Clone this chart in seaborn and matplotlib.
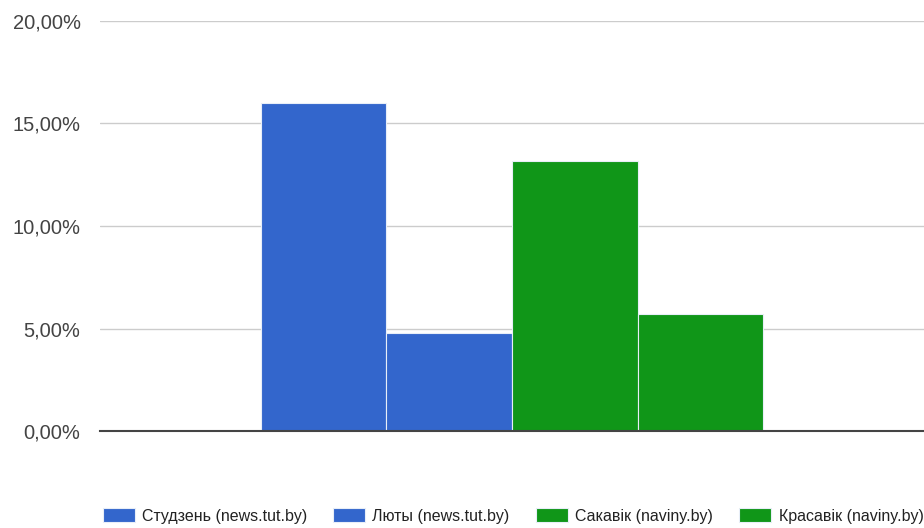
import matplotlib
matplotlib.use("Agg")
import matplotlib.pyplot as plt
import seaborn as sns
import pandas as pd
from matplotlib.ticker import FuncFormatter

# дадзеныя
serii = ["Студзень (news.tut.by)", "Люты (news.tut.by)",
         "Сакавік (naviny.by)", "Красавік (naviny.by)"]
znachenni = [16.0, 4.78, 13.18, 5.72]
kalory = ["#3366cc", "#3366cc", "#109618", "#109618"]
y_ticks = [0, 5, 10, 15, 20]

df = pd.DataFrame({"kat": [""] * len(serii), "serya": serii, "val": znachenni})

sns.set_theme(style="white")
plt.rcParams['font.family'] = ['Liberation Sans', 'DejaVu Sans']

fig = plt.figure(figsize=(9.24, 5.28), dpi=100)
ax = fig.add_axes([100 / 924, (528 - 431.4) / 528, 824 / 924, (431.4 - 20.7) / 528])

sns.barplot(data=df, x="kat", y="val", hue="serya", hue_order=serii,
            palette=kalory, width=0.61, gap=0, ax=ax,
            edgecolor="#e8eef8", linewidth=0.8, saturation=1)

ax.set_xlim(-0.5, 0.5)
ax.set_ylim(0, 20)
ax.set_yticks(y_ticks)
ax.yaxis.set_major_formatter(FuncFormatter(lambda v, p: f"{v:.2f}".replace(".", ",") + "%"))
ax.tick_params(axis="y", length=0, pad=14, labelsize=14.5, labelcolor="#444444")
ax.set_xticks([])
ax.set_xlabel("")
ax.set_ylabel("")
ax.grid(axis="y", color="#cccccc", linewidth=1)
ax.set_axisbelow(True)
for s in ["top", "right", "left"]:
    ax.spines[s].set_visible(False)
ax.spines["bottom"].set_color("#444444")
ax.spines["bottom"].set_linewidth(1.5)
ax.spines["bottom"].set_zorder(5)

handles, labels = ax.get_legend_handles_labels()
ax.get_legend().remove()
fig.legend(handles, labels, loc="center", bbox_to_anchor=(513 / 924, 1 - 516 / 528),
           ncol=4, frameon=False, fontsize=11.5, labelcolor="#222222",
           handlelength=2.0, handleheight=0.95, handletextpad=0.45, columnspacing=1.65)

fig.savefig("out.png", dpi=100)
